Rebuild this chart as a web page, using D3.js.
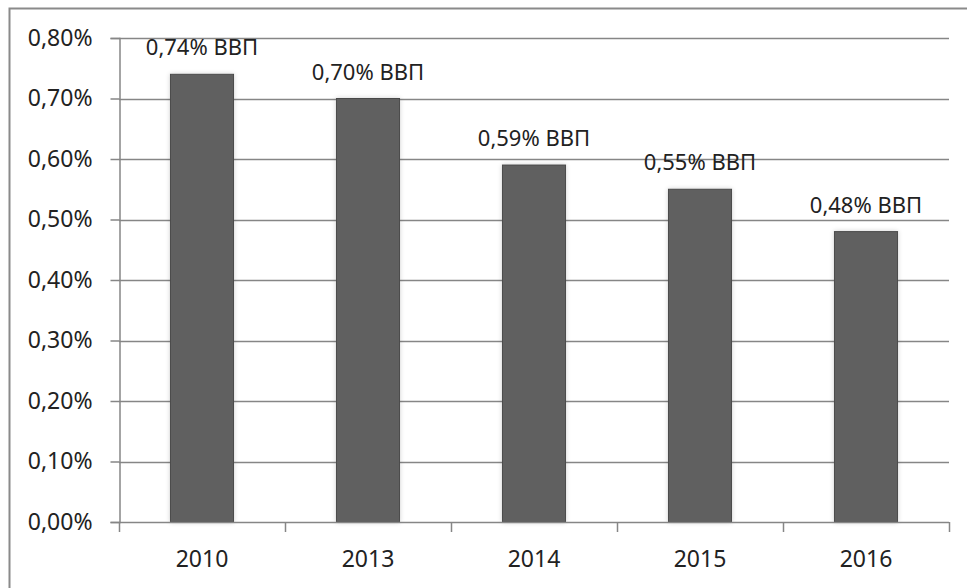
<!DOCTYPE html>
<meta charset="utf-8">
<style>
    body { margin: 0; background: #fff; }
    text { font-family: "Noto Sans", sans-serif; fill: #222; }
</style>
<body>
<script src="https://d3js.org/d3.v7.min.js"></script>
<svg width="967" height="588"></svg>
<script>
    // data
    var years = ["2010", "2013", "2014", "2015", "2016"];
    var shares = [0.74, 0.70, 0.59, 0.55, 0.48];
    var barLabels = ["0,74% ВВП", "0,70% ВВП", "0,59% ВВП", "0,55% ВВП", "0,48% ВВП"];
    var yTicks = [0, 0.1, 0.2, 0.3, 0.4, 0.5, 0.6, 0.7, 0.8];

    var svg = d3.select("svg");
    var plotL = 119, plotR = 949, plotT = 38, plotB = 522;

    // outer frame (top and left edges only are visible)
    svg.append("path")
        .attr("d", "M9.5,600 V8.5 H967")
        .attr("fill", "none")
        .attr("stroke", "#8a8a8a")
        .attr("stroke-width", 2);

    var x = d3.scaleBand().domain(years).range([plotL, plotR]).paddingInner(0.62).paddingOuter(0.31);
    var y = d3.scaleLinear().domain([0, 0.8]).range([plotB, plotT]);

    var defs = svg.append("defs");
    var f = defs.append("filter").attr("id", "glow")
        .attr("x", "-20%").attr("y", "-10%").attr("width", "140%").attr("height", "120%");
    f.append("feGaussianBlur").attr("in", "SourceAlpha").attr("stdDeviation", 2.5).attr("result", "b");
    f.append("feComponentTransfer").attr("in", "b").attr("result", "s")
        .append("feFuncA").attr("type", "linear").attr("slope", 0.18);
    var m = f.append("feMerge");
    m.append("feMergeNode").attr("in", "s");
    m.append("feMergeNode").attr("in", "SourceGraphic");

    // gridlines
    svg.append("g").selectAll("line")
        .data(yTicks.slice(1))
        .enter().append("line")
        .attr("x1", plotL).attr("x2", plotR)
        .attr("y1", function(d) { return Math.round(y(d)) + 0.5; })
        .attr("y2", function(d) { return Math.round(y(d)) + 0.5; })
        .attr("stroke", "#868686")
        .attr("stroke-width", 1.5);

    // y axis
    var yAxis = svg.append("g")
        .attr("transform", "translate(" + (plotL + 0.5) + ",0)")
        .call(d3.axisLeft(y).tickValues(yTicks).tickSize(9).tickPadding(18)
            .tickFormat(function(d) { return d3.format(".2f")(d).replace(".", ",") + "%"; }));
    yAxis.select(".domain").attr("stroke", "#868686").attr("stroke-width", 1.5);
    yAxis.selectAll(".tick line").attr("stroke", "#868686").attr("stroke-width", 1.5);
    yAxis.selectAll("text").style("font-size", "23px").attr("fill", "#222");

    // bars
    svg.append("g").selectAll("rect")
        .data(shares)
        .enter().append("rect")
        .attr("x", function(d, i) { return x(years[i]); })
        .attr("y", function(d) { return y(d); })
        .attr("width", x.bandwidth())
        .attr("height", function(d) { return y(0) - y(d); })
        .attr("fill", "#606060")
        .attr("stroke", "#4a4a4a")
        .attr("stroke-width", 1)
        .attr("filter", "url(#glow)");

    // x axis
    var xTickPos = years.map(function(d) { return x(d) - x.step() * x.paddingInner() / 2; });
    xTickPos.push(plotR);
    var xa = svg.append("g");
    xa.append("line")
        .attr("x1", plotL).attr("x2", plotR)
        .attr("y1", plotB + 0.5).attr("y2", plotB + 0.5)
        .attr("stroke", "#868686").attr("stroke-width", 1.5);
    xa.selectAll(".tk")
        .data(xTickPos)
        .enter().append("line")
        .attr("x1", function(d) { return Math.round(d) + 0.5; })
        .attr("x2", function(d) { return Math.round(d) + 0.5; })
        .attr("y1", plotB).attr("y2", plotB + 10)
        .attr("stroke", "#868686").attr("stroke-width", 1.5);
    xa.selectAll("text")
        .data(years)
        .enter().append("text")
        .attr("x", function(d) { return x(d) + x.bandwidth() / 2; })
        .attr("y", 567)
        .attr("text-anchor", "middle")
        .style("font-size", "23px")
        .text(function(d) { return d; });

    // value labels
    svg.append("g").selectAll("text")
        .data(shares)
        .enter().append("text")
        .attr("x", function(d, i) { return x(years[i]) + x.bandwidth() / 2; })
        .attr("y", function(d) { return y(d) - 19; })
        .attr("text-anchor", "middle")
        .style("font-size", "22px")
        .text(function(d, i) { return barLabels[i]; });
</script>
</body>
